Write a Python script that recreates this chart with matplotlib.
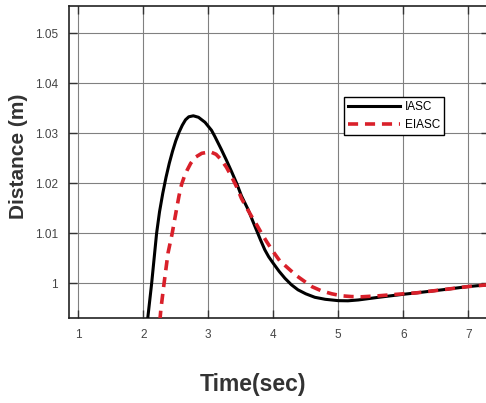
import matplotlib
matplotlib.use("Agg")
import matplotlib.pyplot as plt

# curves
t_iasc = [2.06, 2.129, 2.205, 2.25, 2.30, 2.35, 2.40, 2.45, 2.50, 2.55, 2.60, 2.65,
          2.70, 2.77, 2.85, 2.95, 3.05, 3.10, 3.20, 3.28, 3.36, 3.44, 3.51, 3.615,
          3.68, 3.74, 3.80, 3.87, 3.93, 4.0, 4.09, 4.18, 4.28, 4.38, 4.5, 4.64,
          4.8, 5.0, 5.15, 5.31, 5.62, 6.0, 6.21, 6.6, 7.0, 7.3]
d_iasc = [0.992, 1.000, 1.010, 1.0143, 1.018, 1.0212, 1.0240, 1.0264, 1.0285, 1.0302,
          1.0316, 1.0327, 1.0333, 1.0335, 1.0332, 1.0322, 1.0306, 1.0294, 1.0268,
          1.0246, 1.0223, 1.0199, 1.0175, 1.0147, 1.0126, 1.0107, 1.0088, 1.0067,
          1.0053, 1.004, 1.0024, 1.001, 0.9997, 0.9987, 0.9979, 0.9972, 0.9968,
          0.99653, 0.9965, 0.99667, 0.9972, 0.9978, 0.9981, 0.9987, 0.99935, 0.9997]

t_eiasc = [2.255, 2.27, 2.32, 2.38, 2.445, 2.51, 2.55, 2.59, 2.63, 2.67, 2.73, 2.80,
           2.90, 3.03, 3.12, 3.20, 3.28, 3.36, 3.44, 3.51, 3.59, 3.67, 3.75, 3.82,
           3.90, 4.0, 4.1, 4.23, 4.36, 4.49, 4.6, 4.74, 4.9, 5.05, 5.2, 5.36, 5.62,
           6.0, 6.21, 6.6, 7.0, 7.3]
d_eiasc = [0.9925, 0.9947, 1.000, 1.006, 1.010, 1.0147, 1.0175, 1.0198, 1.0213, 1.0225,
           1.0240, 1.0252, 1.0260, 1.0263, 1.0258, 1.0247, 1.0232, 1.0213, 1.0192,
           1.0170, 1.0151, 1.0133, 1.0116, 1.010, 1.0083, 1.0063, 1.0045, 1.003,
           1.0015, 1.0003, 0.9993, 0.9985, 0.9979, 0.9975, 0.99735, 0.9973, 0.9975,
           0.9979, 0.9981, 0.9987, 0.99935, 0.9997]

xticks = [1, 2, 3, 4, 5, 6, 7]
yticks = [1.0, 1.01, 1.02, 1.03, 1.04, 1.05]
ytick_labels = ["1", "1.01", "1.02", "1.03", "1.04", "1.05"]

plt.rcParams['font.family'] = ['Liberation Sans', 'DejaVu Sans']

fig = plt.figure(figsize=(4.86, 4.03), dpi=100)
ax = fig.add_axes([69 / 486, 1 - 318.3 / 403, 420 / 486, 312.3 / 403])

ax.plot(t_iasc, d_iasc, color='black', lw=2.2, label='IASC', zorder=3,
        solid_joinstyle='round')
ax.plot(t_eiasc, d_eiasc, color='#d9202a', lw=2.6, dashes=(2.8, 1.9),
        label='EIASC', zorder=4)

ax.set_xlim(0.857, 7.32)
ax.set_ylim(0.993, 1.05546)
ax.set_xticks(xticks)
ax.set_yticks(yticks)
ax.set_yticklabels(ytick_labels)

ax.grid(True, color='#808080', lw=0.8)
ax.set_axisbelow(True)
ax.tick_params(direction='in', length=6, width=1, colors='#333333',
               labelcolor='#444444', labelsize=8.5, pad=8, top=True, right=True)
for s in ax.spines.values():
    s.set_color('#222222')
    s.set_linewidth(1.2)

leg = ax.legend(loc='upper left', bbox_to_anchor=(0.655, 0.708), borderaxespad=0,
                fontsize=8.5, handlelength=4.4, handletextpad=0.4, labelspacing=0.45,
                borderpad=0.35, fancybox=False, framealpha=1, edgecolor='black')
leg.get_frame().set_linewidth(1.0)

fig.text(19 / 486, 1 - 156 / 403, 'Distance (m)', rotation=90, ha='center',
         va='center', fontsize=15, fontweight='bold', color='#333333')
fig.text(252.5 / 486, 1 - 384 / 403, 'Time(sec)', ha='center', va='center',
         fontsize=16.5, fontweight='bold', color='#333333')

fig.savefig('out.png', dpi=100)
